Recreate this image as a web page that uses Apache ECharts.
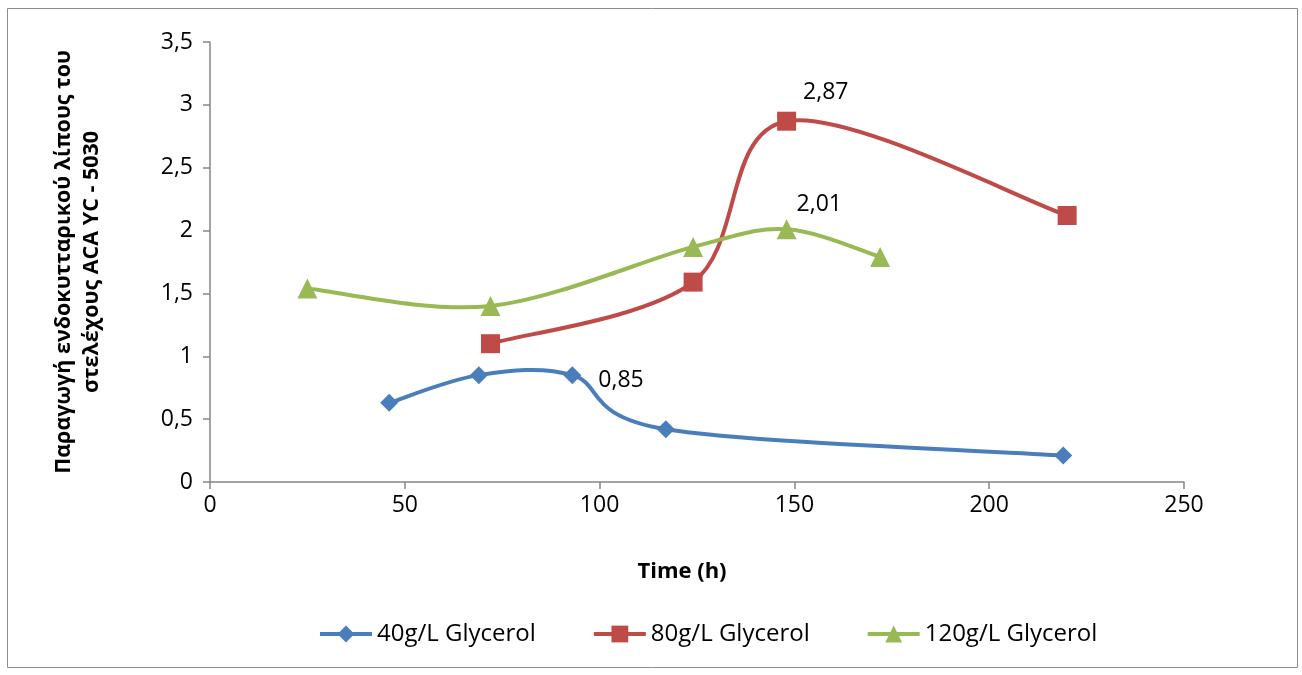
<!DOCTYPE html>
<html>
<head>
<meta charset="utf-8">
<script src="https://cdn.jsdelivr.net/npm/echarts@6/dist/echarts.min.js"></script>
<style>
  html, body { margin: 0; padding: 0; background: #fff; }
  #main { width: 1302px; height: 675px; }
</style>
</head>
<body>
<div id="main"></div>
<script>
// data
var seriesNames = ['40g/L Glycerol', '80g/L Glycerol', '120g/L Glycerol'];
var glycerol40 = [[46, 0.63], [69, 0.85], [93, 0.85], [117, 0.42], [219, 0.21]];
var glycerol80 = [[72, 1.10], [124, 1.59], [148, 2.87], [220, 2.12]];
var glycerol120 = [[25, 1.54], [72, 1.40], [124, 1.87], [148, 2.01], [172, 1.79]];
var labelled40 = 2, labelled80 = 2, labelled120 = 3;
var colors = ['#4a7ebb', '#be4b48', '#98b954'];

var font = '"Open Sans", "Noto Sans", sans-serif';
function comma(v) { return String(v).replace('.', ','); }

function withLabel(data, idx, offset) {
  return data.map(function (d, i) {
    if (i !== idx) return d;
    return {
      value: d,
      label: {
        show: true, position: 'right', offset: offset,
        formatter: function (p) { return comma(p.value[1].toFixed(2)); },
        color: '#000', fontSize: 23, fontFamily: font
      }
    };
  });
}

// Excel-like smoothed line (Catmull-Rom -> bezier) drawn through the axis scales
function smoothCurve(data, color) {
  return {
    type: 'custom', z: 1, silent: true,
    data: data.slice(0, 1),
    encode: { x: 0, y: 1 },
    renderItem: function (params, api) {
      var p = data.map(function (d) { return api.coord(d); });
      var path = 'M' + p[0][0] + ' ' + p[0][1];
      for (var i = 0; i < p.length - 1; i++) {
        var p0 = p[i - 1] || p[i], p1 = p[i], p2 = p[i + 1], p3 = p[i + 2] || p[i + 1];
        var c1x = p1[0] + (p2[0] - p0[0]) / 6, c1y = p1[1] + (p2[1] - p0[1]) / 6;
        var c2x = p2[0] - (p3[0] - p1[0]) / 6, c2y = p2[1] - (p3[1] - p1[1]) / 6;
        path += ' C' + c1x + ' ' + c1y + ' ' + c2x + ' ' + c2y + ' ' + p2[0] + ' ' + p2[1];
      }
      return {
        type: 'path',
        shape: { pathData: path },
        style: { fill: 'none', stroke: color, lineWidth: 4, lineJoin: 'round' }
      };
    }
  };
}

function markers(name, data, symbol, size, color) {
  return {
    name: name, type: 'line', z: 3,
    data: data,
    symbol: symbol, symbolSize: size,
    lineStyle: { color: color, width: 4, opacity: 0 },
    itemStyle: { color: color }
  };
}

var myChart = echarts.init(document.getElementById('main'));
var option = {
  animation: false,
  textStyle: { fontFamily: font },
  graphic: [{
    type: 'rect',
    shape: { x: 7.5, y: 8.5, width: 1290, height: 659 },
    style: { fill: 'none', stroke: '#8c8c8c', lineWidth: 1 }
  }],
  grid: { left: 210, right: 118, top: 42, bottom: 193 },
  xAxis: {
    type: 'value', min: 0, max: 250, interval: 50,
    name: 'Time (h)', nameLocation: 'middle', nameGap: 79,
    nameTextStyle: { fontSize: 22, fontWeight: 'bold', color: '#000', fontFamily: font, padding: [0, 30, 0, 0] },
    axisLine: { onZero: false, lineStyle: { color: '#868686', width: 1.5 } },
    axisTick: { show: true, length: 7, lineStyle: { color: '#868686', width: 1.5 } },
    axisLabel: { color: '#000', fontSize: 23, margin: 12, fontFamily: font },
    splitLine: { show: false }
  },
  yAxis: {
    type: 'value', min: 0, max: 3.5, interval: 0.5,
    name: 'Παραγωγή ενδοκυτταρικού λίπους του\nστελέχους ACA YC - 5030',
    nameLocation: 'middle', nameGap: 104, nameRotate: 90,
    nameTextStyle: { fontSize: 21.5, fontWeight: 'bold', color: '#000', lineHeight: 28, fontFamily: font },
    axisLine: { show: true, lineStyle: { color: '#868686', width: 1.5 } },
    axisTick: { show: true, length: 7, lineStyle: { color: '#868686', width: 1.5 } },
    axisLabel: { color: '#000', fontSize: 23, margin: 17, fontFamily: font, formatter: comma },
    splitLine: { show: false }
  },
  legend: {
    bottom: 24, left: 313, itemGap: 56, itemWidth: 52, itemHeight: 21,
    lineStyle: { opacity: 1, width: 4 },
    textStyle: { fontSize: 24, color: '#000', fontFamily: font },
    data: seriesNames
  },
  series: [
    smoothCurve(glycerol40, colors[0]),
    smoothCurve(glycerol80, colors[1]),
    smoothCurve(glycerol120, colors[2]),
    markers(seriesNames[0], withLabel(glycerol40, labelled40, [12, 5]), 'diamond', 18, colors[0]),
    markers(seriesNames[1], withLabel(glycerol80, labelled80, [2, -29]), 'rect', 19, colors[1]),
    markers(seriesNames[2], withLabel(glycerol120, labelled120, [-5, -25]), 'triangle', 20, colors[2])
  ]
};
myChart.setOption(option);
</script>
</body>
</html>
